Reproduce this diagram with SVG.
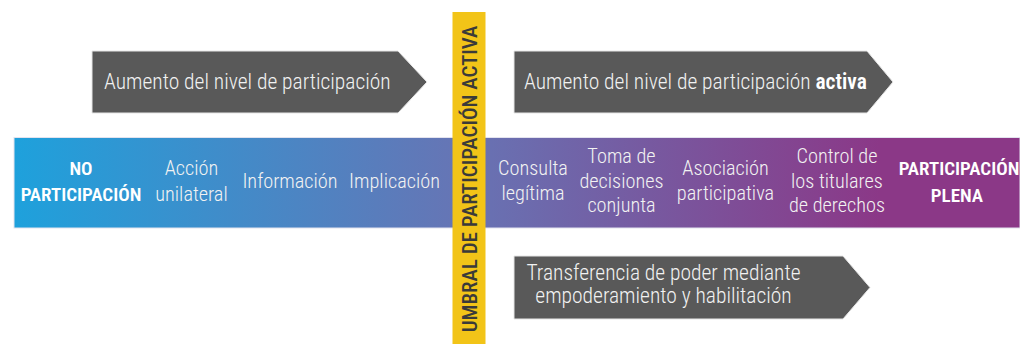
<svg xmlns="http://www.w3.org/2000/svg" width="1020" height="344" viewBox="0 0 1020 344">
<style>
.t{font-family:"Roboto Condensed","Liberation Sans Narrow","DejaVu Sans Condensed",sans-serif;font-size:20.3px;fill:#f2f2f2;text-anchor:middle;font-weight:300}
.b{font-weight:600;fill:#ffffff;font-size:19px}
.at{font-family:"Roboto Condensed","Liberation Sans Narrow","DejaVu Sans Condensed",sans-serif;font-size:21.5px;fill:#f2f2f2;font-weight:300}
.arrow{fill:#595959;stroke:#e6e6e6;stroke-width:1}
</style>
<defs>
<linearGradient id="g" x1="14" y1="0" x2="1020" y2="0" gradientUnits="userSpaceOnUse">
<stop offset="0" stop-color="#1ea1dc"/>
<stop offset="0.44" stop-color="#6675b5"/>
<stop offset="0.86" stop-color="#8b3887"/>
<stop offset="1" stop-color="#8b3887"/>
</linearGradient>
</defs>
<g id="band">
<rect x="14" y="137.5" width="1006" height="90.5" fill="url(#g)" stroke="#e3e3ee" stroke-width="1"/>
</g>
<g id="arrow-top-left">
<polygon class="arrow" points="92,51 398,51 427,82 398,113 92,113"/>
<text class="at" x="104" y="89">Aumento del nivel de participación</text>
</g>
<g id="arrow-top-right">
<polygon class="arrow" points="514,51 867,51 893,82 867,113 514,113"/>
<text class="at" x="524" y="89">Aumento del nivel de participación <tspan font-weight="600" fill="#ffffff">activa</tspan></text>
</g>
<g id="arrow-bottom">
<polygon class="arrow" points="514,256 843,256 870,287.5 843,319 514,319"/>
<text class="at" x="663.5" y="280" text-anchor="middle">Transferencia de poder mediante</text>
<text class="at" x="663.5" y="303" text-anchor="middle">empoderamiento y habilitación</text>
</g>
<g id="no-participacion"><text class="t b" x="81" y="175">NO</text><text class="t b" x="81" y="201">PARTICIPACIÓN</text></g>
<g id="accion-unilateral"><text class="t" x="191.5" y="175">Acción</text><text class="t" x="191.5" y="201">unilateral</text></g>
<g id="informacion"><text class="t" x="290" y="188">Información</text></g>
<g id="implicacion"><text class="t" x="394.5" y="188">Implicación</text></g>
<g id="consulta"><text class="t" x="533" y="175">Consulta</text><text class="t" x="533" y="200">legítima</text></g>
<g id="toma-decisiones"><text class="t" x="621.5" y="163">Toma de</text><text class="t" x="621.5" y="188">decisiones</text><text class="t" x="621.5" y="212">conjunta</text></g>
<g id="asociacion"><text class="t" x="725.5" y="175">Asociación</text><text class="t" x="725.5" y="200">participativa</text></g>
<g id="control"><text class="t" x="837" y="163">Control de</text><text class="t" x="837" y="188">los titulares</text><text class="t" x="837" y="212">de derechos</text></g>
<g id="participacion-plena"><text class="t b" x="959" y="175">PARTICIPACIÓN</text><text class="t b" x="957" y="201.5">PLENA</text></g>
<g id="umbral">
<rect x="452.5" y="12" width="33" height="332" fill="#f2c418"/>
<text transform="translate(476.5,179) rotate(-90)" text-anchor="middle" font-family="Roboto Condensed,Liberation Sans Narrow,DejaVu Sans Condensed,sans-serif" font-size="21" font-weight="500" fill="#3a3a3a">UMBRAL DE PARTICIPACIÓN ACTIVA</text>
</g>
<g id="connectors"></g>
</svg>
